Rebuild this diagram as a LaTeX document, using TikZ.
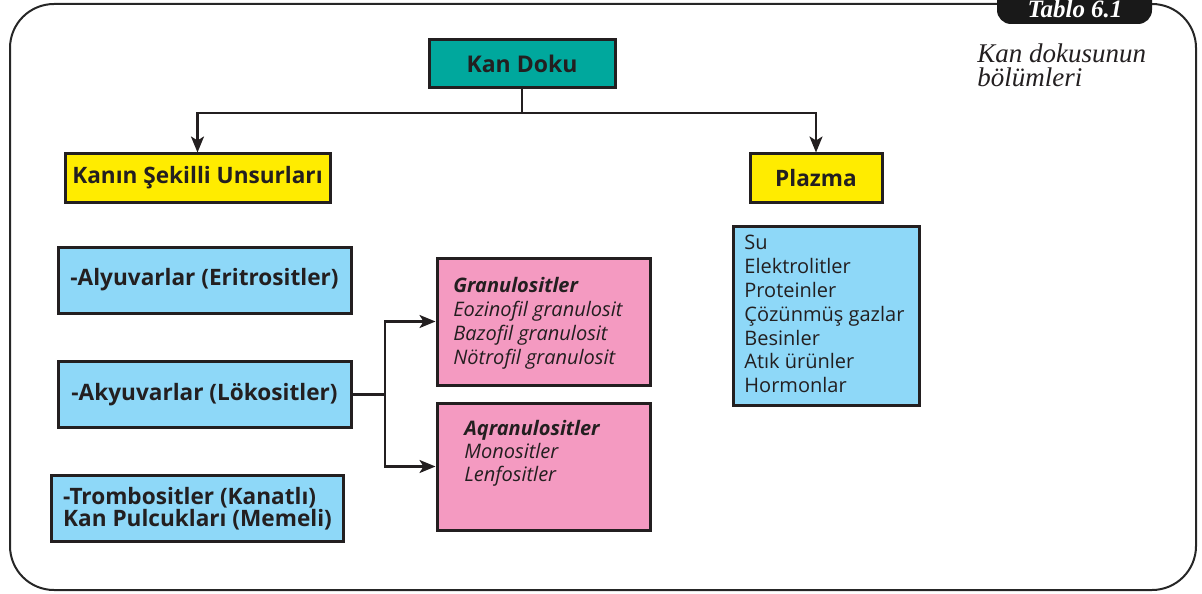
\documentclass[tikz,border=0pt]{standalone}
\usepackage{fontspec}
\setmainfont{Liberation Serif}
\setsansfont{Open Sans}
\usetikzlibrary{arrows.meta}

\definecolor{inkdark}{HTML}{231F20}
\definecolor{dokuteal}{HTML}{00A89D}
\definecolor{unsuryellow}{HTML}{FFEC00}
\definecolor{hucreblue}{HTML}{8ED8F8}
\definecolor{granulpink}{HTML}{F49AC1}

\tikzset{
    headbox/.style={draw=inkdark, line width=1.5pt, inner sep=0pt, text=inkdark,
        font=\sffamily\bfseries\fontsize{11.3}{10.8}\selectfont},
    cellbox/.style={headbox, fill=hucreblue},
    pinkbox/.style={draw=inkdark, line width=1.5pt, fill=granulpink},
    listtext/.style={anchor=north west, inner sep=0pt, align=left, text=inkdark,
        font=\sffamily\fontsize{10}{11.9}\selectfont},
    link/.style={draw=inkdark, line width=1.2pt},
    linkarrow/.style={link, -{Stealth[length=8pt, width=6.5pt, inset=2pt]}}
}

\begin{document}
\begin{tikzpicture}[x=0.5pt, y=-0.5pt]
    \useasboundingbox (0,0) rectangle (1202,593);
    \clip (0,0) rectangle (1202,593);

    % frame and tab
    \draw[draw=black!85, line width=1pt, rounded corners=22pt]
        (10,300) -- (10,4) -- (1196,4) -- (1196,590) -- (10,590) -- cycle;
    \fill[black!90, rounded corners=7pt] (997,-30) rectangle (1152,24);
    \node[anchor=base, inner sep=0pt, text=white,
        font=\rmfamily\bfseries\itshape\fontsize{12.5}{13}\selectfont]
        (tablo) at (1075,18) {Tablo 6.1};
    \node[anchor=north west, inner sep=0pt, align=left, text=inkdark,
        font=\rmfamily\itshape\fontsize{13.5}{12}\selectfont]
        (baslik) at (977,43) {Kan dokusunun\\bölümleri};

    % top level
    \node[headbox, fill=dokuteal, minimum width=93pt, minimum height=24pt,
        font=\sffamily\bfseries\fontsize{11.5}{12}\selectfont]
        (kandoku) at (522,64) {Kan Doku};
    \node[headbox, fill=unsuryellow, minimum width=132.5pt, minimum height=24pt]
        (sekilli) at (197.5,178) {Kanın Şekilli Unsurları};
    \node[headbox, fill=unsuryellow, minimum width=66pt, minimum height=24pt]
        (plazma) at (816,178) {Plazma};

    \coordinate (branch) at (522,113);
    \draw[link, line width=1.4pt] (kandoku.south) -- (branch);
    \draw[linkarrow] (branch) -| (sekilli.north);
    \draw[linkarrow] (branch) -| (plazma.north);

    % blood cells
    \foreach \name/\y/\label in {
        alyuvar/280/{-Alyuvarlar (Eritrositler)},
        akyuvar/394.5/{-Akyuvarlar (Lökositler)}}{
        \node[cellbox, minimum width=146.5pt, minimum height=33pt]
            (\name) at (204.5,\y) {\label};
    }
    \node[cellbox, minimum width=146pt, minimum height=33pt, align=left]
        (tromb) at (197.5,508.5) {-Trombositler (Kanatlı)\\Kan Pulcukları (Memeli)};

    % leukocyte groups
    \node[pinkbox, minimum width=106.5pt, minimum height=63.5pt] (granul) at (543.5,321.5) {};
    \node[pinkbox, minimum width=106.5pt, minimum height=63.5pt] (aqranul) at (543.5,466.5) {};
    \node[listtext, font=\sffamily\itshape\fontsize{10}{12}\selectfont] (granultext) at (453,277)
        {\textbf{Granulositler}\\Eozinofil granulosit\\Bazofil granulosit\\Nötrofil granulosit};
    \node[listtext, font=\sffamily\itshape\fontsize{10}{11.5}\selectfont] (aqranultext) at (464,420)
        {\textbf{Aqranulositler}\\Monositler\\Lenfositler};

    \coordinate (fork) at (385,394.5);
    \draw[link] (akyuvar.east) -- (fork);
    \draw[linkarrow] (fork) |- (granul.west);
    \draw[linkarrow] (fork) |- (aqranul.west);

    % plasma contents
    \node[draw=inkdark, line width=1.5pt, fill=hucreblue, minimum width=93pt,
        minimum height=89.5pt] (plazmabox) at (826,315.5) {};
    \node[listtext] (plazmatext) at (744,235)
        {Su\\Elektrolitler\\Proteinler\\Çözünmüş gazlar\\Besinler\\Atık ürünler\\Hormonlar};
\end{tikzpicture}
\end{document}
